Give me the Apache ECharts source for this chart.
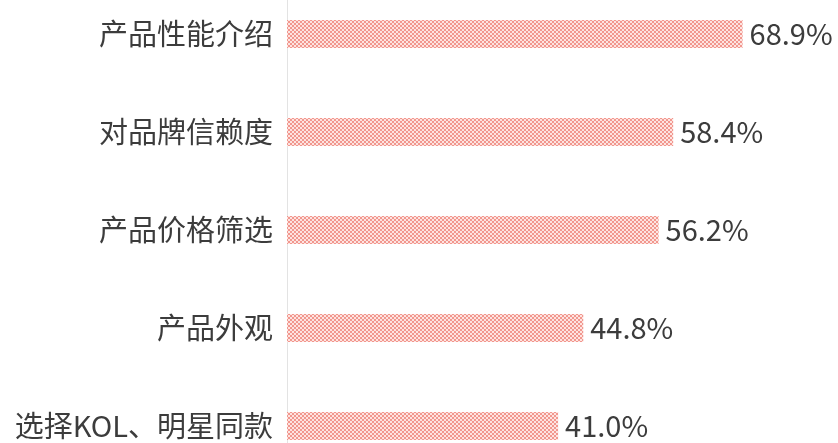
<!DOCTYPE html>
<html>
<head>
<meta charset="utf-8">
<script src="https://cdn.jsdelivr.net/npm/echarts@6/dist/echarts.min.js"></script>
<style>
html,body{margin:0;padding:0;background:#fff;overflow:hidden;width:838px;height:443px;}
#chart{width:838px;height:490px;position:absolute;left:0;top:-15px;}
</style>
</head>
<body>
<div id="chart"></div>
<script>
var categories = ['产品性能介绍', '对品牌信赖度', '产品价格筛选', '产品外观', '选择KOL、明星同款'];
var values = [68.9, 58.4, 56.2, 44.8, 41.0];

function makePattern() {
  var c = document.createElement('canvas');
  c.width = 4; c.height = 4;
  var ctx = c.getContext('2d');
  ctx.fillStyle = '#fde4e1';
  ctx.fillRect(0, 0, 4, 4);
  ctx.fillStyle = '#f2978e';
  ctx.fillRect(0, 0, 2, 2);
  ctx.fillRect(2, 2, 2, 2);
  return c;
}

var chart = echarts.init(document.getElementById('chart'), null, {renderer: 'canvas'});
chart.setOption({
  animation: false,
  backgroundColor: '#ffffff',
  grid: {left: 287, right: 22, top: 0, bottom: 0, containLabel: false},
  xAxis: {
    type: 'value', min: 0, max: 80,
    show: false
  },
  yAxis: {
    type: 'category',
    data: categories,
    inverse: true,
    axisLine: {show: true, lineStyle: {color: '#e3e3e3', width: 1}},
    axisTick: {show: false},
    splitLine: {show: false},
    axisLabel: {
      color: '#3c3c3c',
      fontSize: 29,
      fontFamily: 'Noto Sans CJK SC',
      margin: 14
    }
  },
  series: [{
    type: 'bar',
    data: values,
    barWidth: 28,
    itemStyle: {
      color: {image: makePattern(), repeat: 'repeat'}
    },
    label: {
      show: true,
      position: 'right',
      distance: 7,
      color: '#3c3c3c',
      fontSize: 29,
      fontFamily: 'Noto Sans CJK SC',
      formatter: function (p) { return p.value.toFixed(1) + '%'; }
    }
  }]
});
</script>
</body>
</html>
